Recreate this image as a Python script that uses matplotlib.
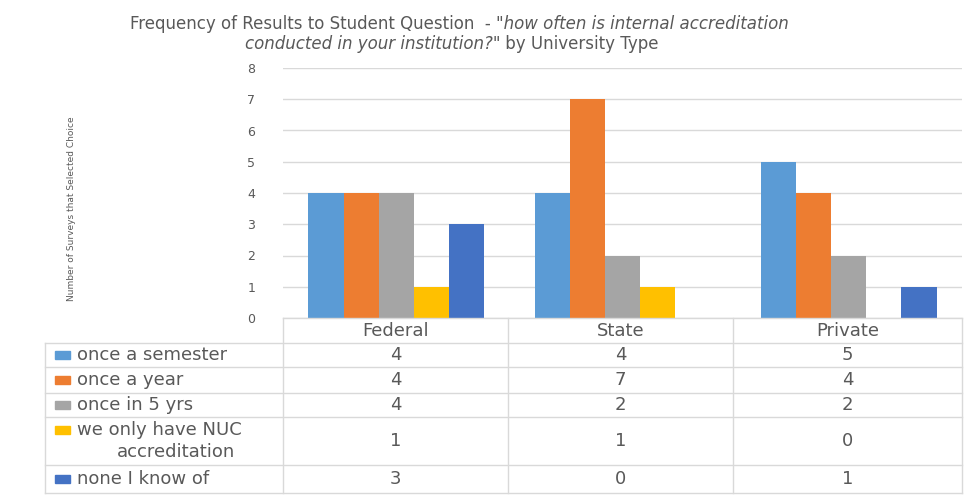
import numpy as np
import matplotlib.pyplot as plt
from matplotlib.lines import Line2D
from matplotlib.patches import Rectangle

categories = ['Federal', 'State', 'Private']
series_names = ['once a semester', 'once a year', 'once in 5 yrs',
                'we only have NUC\naccreditation', 'none I know of']
once_semester = [4, 4, 5]
once_year = [4, 7, 4]
once_5yrs = [4, 2, 2]
only_nuc = [1, 1, 0]
none_known = [3, 0, 1]
values = [once_semester, once_year, once_5yrs, only_nuc, none_known]
colors = ['#5B9BD5', '#ED7D31', '#A5A5A5', '#FFC000', '#4472C4']

W, H = 974, 495
TXT = '#595959'
GRID = '#D9D9D9'
FS = 13


def fx(px):
    return px / W


def fy(py):
    return 1 - py / H


def chain(fig, x0, y, parts, **kw):
    """Write text pieces one after another on a line, starting at pixel x0."""
    renderer = fig.canvas.get_renderer()
    x = x0
    for s, style in parts:
        t = fig.text(fx(x), fy(y), s, style=style, ha='left', va='center', **kw)
        x = t.get_window_extent(renderer).x1


def main():
    fig = plt.figure(figsize=(W / 100, H / 100), dpi=100)
    ax = fig.add_axes([fx(283), fy(318), fx(962) - fx(283), fy(68) - fy(318)])

    x = np.arange(len(categories))
    width = 0.155
    for i, (vals, c) in enumerate(zip(values, colors)):
        ax.bar(x + (i - 2) * width, vals, width, color=c, zorder=3)

    ax.set_xlim(-0.5, 2.5)
    ax.set_ylim(0, 8)
    ax.set_yticks(range(9))
    ax.yaxis.grid(True, color=GRID, linewidth=1, zorder=0)
    ax.set_xticks([])
    ax.tick_params(axis='y', length=0, pad=20, labelsize=9, labelcolor=TXT)
    for s in ax.spines.values():
        s.set_visible(False)

    fig.text(fx(71), fy(209), 'Number of Surveys that Selected Choice', rotation=90,
             fontsize=6.5, color=TXT, ha='center', va='center')

    # title
    chain(fig, 130, 24, [('Frequency of Results to Student Question  - ', 'normal'),
                         ('"how often is internal accreditation', 'italic')],
          fontsize=12, color=TXT)
    chain(fig, 245, 44, [('conducted in your institution?"', 'italic'),
                         (' by University Type', 'normal')],
          fontsize=12, color=TXT)

    # data table
    cols = [283, 508, 733, 962]
    rows = [318, 343, 367, 393, 417, 465, 493]
    lw = 1
    fig.add_artist(Line2D([fx(283), fx(962)], [fy(318)] * 2, color=GRID, lw=lw))
    for r in rows[1:]:
        fig.add_artist(Line2D([fx(45), fx(962)], [fy(r)] * 2, color=GRID, lw=lw))
    for c in cols:
        fig.add_artist(Line2D([fx(c)] * 2, [fy(318), fy(493)], color=GRID, lw=lw))
    fig.add_artist(Line2D([fx(45)] * 2, [fy(343), fy(493)], color=GRID, lw=lw))

    for j, cat in enumerate(categories):
        xc = (cols[j] + cols[j + 1]) / 2
        fig.text(fx(xc), fy(331), cat, fontsize=FS, color=TXT, ha='center', va='center')

    for i, (name, vals, c) in enumerate(zip(series_names, values, colors)):
        yc = (rows[i + 1] + rows[i + 2]) / 2
        if '\n' in name:
            first, second = name.split('\n')
            fig.text(fx(77), fy(yc - 11), first, fontsize=FS, color=TXT, ha='left', va='center')
            fig.text(fx(176), fy(yc + 11), second, fontsize=FS, color=TXT, ha='center', va='center')
            ky = yc - 11
        else:
            fig.text(fx(77), fy(yc), name, fontsize=FS, color=TXT, ha='left', va='center')
            ky = yc
        fig.add_artist(Rectangle((fx(55), fy(ky + 4)), fx(15), fy(0) - fy(8), color=c))
        for j, v in enumerate(vals):
            xc = (cols[j] + cols[j + 1]) / 2
            fig.text(fx(xc), fy(yc), str(v), fontsize=FS, color=TXT, ha='center', va='center')

    fig.savefig('out.png', dpi=100)


if __name__ == '__main__':
    main()
